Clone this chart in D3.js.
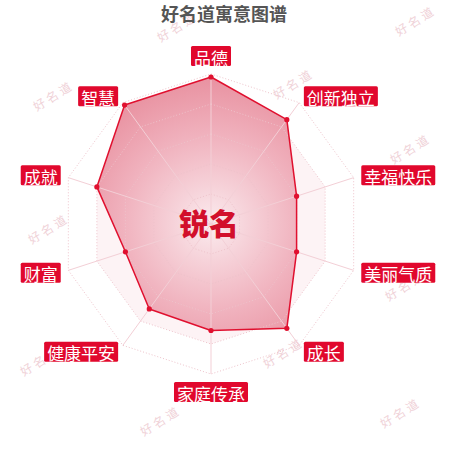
<!DOCTYPE html>
<html><head><meta charset="utf-8">
<script src="https://cdn.jsdelivr.net/npm/d3@7/dist/d3.min.js"></script>
<style>body{margin:0;background:#fff}svg{display:block}</style>
</head><body><svg id="c" width="450" height="450"></svg>
<script>
const categories = ["品德","创新独立","幸福快乐","美丽气质","成长","家庭传承","健康平安","财富","成就","智慧"];
const values = [98, 86, 60, 60, 86, 71, 70, 60, 80, 98];
const maxValue = 100;
const ringLevels = [20, 40, 60, 80, 100];
const title = "好名道寓意图谱";
const centerName = "锐名";
const watermarkText = "好名道";
const watermarkSpots = [[177,26],[415,20],[53,95],[293,83],[410,148],[48,228],[405,285],[40,360],[283,352],[160,420],[400,412]];

const svg = d3.select("#c");
const cx = 211, cy = 224, R = 150;
const font = "'Noto Sans CJK SC','Noto Sans',sans-serif";
const r = d3.scaleLinear().domain([0, maxValue]).range([0, R]);
const angle = d3.scaleLinear().domain([0, categories.length]).range([0, 2*Math.PI]);
const px = (i, v) => cx + r(v)*Math.sin(angle(i));
const py = (i, v) => cy - r(v)*Math.cos(angle(i));

// watermarks
svg.append("g").selectAll("text").data(watermarkSpots).join("text")
  .attr("transform", d => `translate(${d[0]},${d[1]}) rotate(-32)`)
  .attr("text-anchor","middle").attr("dominant-baseline","central")
  .attr("font-family", font).attr("font-size", 12).attr("letter-spacing", 3)
  .attr("fill", "#f0d2d8").text(watermarkText);

const g = svg.append("g").attr("transform",`translate(${cx},${cy})`);
const ringPath = lvl => d3.lineRadial().curve(d3.curveLinearClosed)
  .angle((d,i) => angle(i)).radius(() => r(lvl))(categories);

// split area bands
const bands = [[60,80,"#fdf3f5"],[20,40,"#fdf3f5"]];
bands.forEach(([a,b,col]) => {
  g.append("path").attr("d", ringPath(b) + ringPath(a)).attr("fill-rule","evenodd").attr("fill", col);
});

// gradient
const defs = svg.append("defs");
const grad = defs.append("radialGradient").attr("id","ag").attr("gradientUnits","userSpaceOnUse")
  .attr("cx",0).attr("cy",0).attr("r",R);
grad.append("stop").attr("offset","0%").attr("stop-color","#fbecef");
grad.append("stop").attr("offset","25%").attr("stop-color","#f6d2d9");
grad.append("stop").attr("offset","60%").attr("stop-color","#f0b1bd");
grad.append("stop").attr("offset","100%").attr("stop-color","#e8909f");

// data area
const area = d3.lineRadial().curve(d3.curveLinearClosed)
  .angle((d,i) => angle(i)).radius(d => r(d));
g.append("path").attr("d", area(values)).attr("fill","url(#ag)").attr("stroke","none");

// rings
ringLevels.forEach(lvl => {
  g.append("path").attr("d", ringPath(lvl)).attr("fill","none")
   .attr("stroke","#eec3cb").attr("stroke-width",1).attr("stroke-dasharray","1,2");
});
// axes
g.selectAll("line.ax").data(categories).join("line").attr("class","ax")
  .attr("x1",0).attr("y1",0)
  .attr("x2",(d,i)=>px(i,maxValue)-cx).attr("y2",(d,i)=>py(i,maxValue)-cy)
  .attr("stroke","#f3cfd6").attr("stroke-width",1);

// outline
g.append("path").attr("d", area(values)).attr("fill","none")
  .attr("stroke","#e0102f").attr("stroke-width",1.5).attr("stroke-linejoin","round");
svg.append("g").selectAll("circle").data(values).join("circle")
  .attr("cx",(d,i)=>px(i,d)).attr("cy",(d,i)=>py(i,d)).attr("r",2.6).attr("fill","#e0102f");

// center name
svg.append("text").attr("x",cx-2).attr("y",cy-2).attr("text-anchor","middle").attr("dominant-baseline","central")
  .attr("font-family",font).attr("font-weight","900").attr("font-size",30).attr("fill","#d20f2b").text(centerName);

// labels
const gap = 158, fs = 17, padX = 3, h = 20;
categories.forEach((c,i) => {
  const a = angle(i);
  const x = cx + gap*Math.sin(a), y = cy - gap*Math.cos(a);
  const w = c.length*fs + 2*padX;
  const s = Math.sin(a), co = Math.cos(a);
  let bx, by;
  if (Math.abs(s) < 0.05) bx = x - w/2; else if (s > 0) bx = x; else bx = x - w;
  if (co > 0.99) by = y - h; else if (co < -0.99) by = y; else by = y - h/2;
  svg.append("rect").attr("x",bx).attr("y",by).attr("width",w).attr("height",h).attr("rx",1.5).attr("fill","#e1082d");
  svg.append("text").attr("x",bx+w/2).attr("y",by+h/2+1).attr("text-anchor","middle").attr("dominant-baseline","central")
    .attr("font-family",font).attr("font-size",fs).attr("fill","#fff").text(c);
});

// title
svg.append("text").attr("x",224).attr("y",13).attr("text-anchor","middle").attr("dominant-baseline","central")
  .attr("font-family",font).attr("font-weight","bold").attr("font-size",18).attr("fill","#555").text(title);
</script></body></html>
